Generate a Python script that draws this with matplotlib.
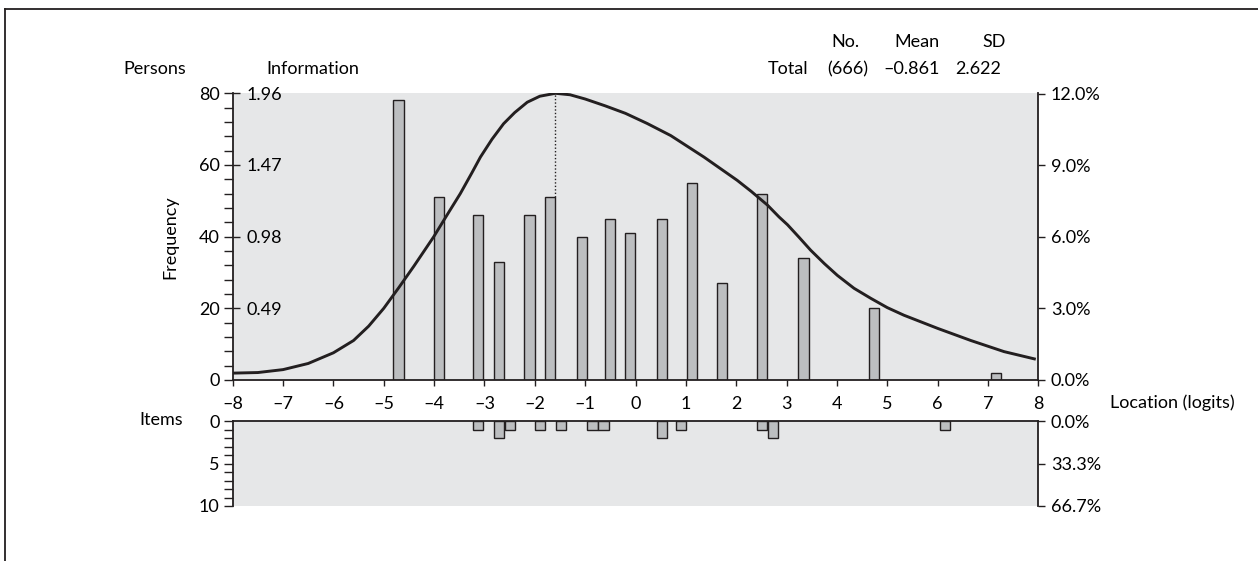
import matplotlib
matplotlib.use('Agg')
import matplotlib.pyplot as plt
from matplotlib.ticker import MultipleLocator, FuncFormatter
from matplotlib.lines import Line2D

plt.rcParams['font.family'] = ['Lato', 'DejaVu Sans']
plt.rcParams['font.size'] = 13

# Person location distribution (class centre in logits, count)
person_loc = [-4.71, -3.90, -3.13, -2.71, -2.11, -1.70, -1.06, -0.51, -0.11,
              0.53, 1.12, 1.72, 2.51, 3.34, 4.74, 7.16]
person_n = [78, 51, 46, 33, 46, 51, 40, 45, 41, 45, 55, 27, 52, 34, 20, 2]

# Item location distribution
item_loc = [-3.13, -2.71, -2.49, -1.90, -1.48, -0.85, -0.64, 0.53, 0.90,
            2.51, 2.73, 6.15]
item_n = [1, 2, 1, 1, 1, 1, 1, 2, 1, 1, 2, 1]

# Test information function
info_loc = [-8.00, -7.50, -7.00, -6.50, -6.00, -5.60, -5.30, -5.00, -4.70,
            -4.40, -4.01, -3.70, -3.48, -3.25, -3.08, -2.85, -2.62, -2.40,
            -2.15, -1.90, -1.59, -1.30, -1.00, -0.60, -0.20, 0.23, 0.70,
            1.36, 2.02, 2.30, 2.62, 2.85, 3.02, 3.25, 3.48, 3.75, 4.01,
            4.34, 4.67, 5.00, 5.33, 6.00, 6.66, 7.32, 7.95]
info_val = [0.047, 0.051, 0.071, 0.113, 0.186, 0.270, 0.368, 0.490, 0.632,
            0.779, 0.978, 1.152, 1.274, 1.416, 1.524, 1.646, 1.752, 1.828,
            1.899, 1.940, 1.960, 1.950, 1.921, 1.874, 1.823, 1.754, 1.671,
            1.524, 1.365, 1.289, 1.196, 1.115, 1.061, 0.975, 0.887, 0.796,
            0.715, 0.627, 0.559, 0.495, 0.443, 0.353, 0.270, 0.194, 0.142]

n_persons = 666
n_items = 15
mean_loc = -0.861
sd_loc = 2.622

PERSONS_MAX = 80
INFO_MAX = 1.96
scale = INFO_MAX / PERSONS_MAX

BAR_FC = '#bcbec0'
EDGE = '#231f20'
BG = '#e6e7e8'
BAR_W = 0.21

W, H = 1258, 561


def fx(px):
    return px / W


def fy(py):
    return 1 - py / H


def dash(v, fmt='{:g}'):
    return fmt.format(v).replace('-', '\u2013')


fig = plt.figure(figsize=(W / 100, H / 100), dpi=100)

left, right = 232.7, 1038.3

# --- persons panel ---
ax = fig.add_axes([fx(left), fy(380), fx(right) - fx(left), fy(93.3) - fy(380)])
ax.set_facecolor(BG)
ax.bar(person_loc, person_n, width=BAR_W, color=BAR_FC, edgecolor=EDGE,
       linewidth=1, zorder=2)
ax.plot(info_loc, [v / scale for v in info_val], color=EDGE, lw=2.1, zorder=3,
        solid_joinstyle='round', solid_capstyle='butt')

peak = info_val.index(max(info_val))
near = min(range(len(person_loc)), key=lambda i: abs(person_loc[i] - info_loc[peak]))
ax.vlines(info_loc[peak], person_n[near], info_val[peak] / scale, colors=EDGE,
          linestyles=(0, (1, 1.5)), lw=1, zorder=3)

ax.set_xlim(-8, 8)
ax.set_ylim(0, PERSONS_MAX)
for s in ('top', 'right'):
    ax.spines[s].set_visible(False)
for s in ('left', 'bottom'):
    ax.spines[s].set_color(EDGE)
    ax.spines[s].set_linewidth(1.3)

ax.set_xticks(range(-8, 9))
ax.xaxis.set_major_formatter(FuncFormatter(lambda v, p: dash(v)))
ax.tick_params(axis='x', direction='out', length=4.5, width=1, pad=7, color=EDGE)
ax.yaxis.set_major_locator(MultipleLocator(20))
ax.yaxis.set_minor_locator(MultipleLocator(4))
ax.tick_params(axis='y', which='both', direction='out', length=6.5, width=1,
               pad=3, color=EDGE)

sec_info = ax.secondary_yaxis(0, functions=(lambda p: p * scale, lambda i: i / scale))
sec_info.set_alignment('right')
sec_info.set_yticks([0.49, 0.98, 1.47, 1.96])
sec_info.yaxis.set_major_formatter(FuncFormatter(lambda v, p: f'{v:.2f}'))
sec_info.tick_params(axis='y', length=5, width=1, pad=5, color=EDGE)
sec_info.spines['right'].set_visible(False)

sec_pct = ax.secondary_yaxis('right', functions=(lambda p: p / n_persons * 100,
                                                 lambda q: q * n_persons / 100))
sec_pct.set_yticks([0, 3, 6, 9, 12])
sec_pct.yaxis.set_major_formatter(FuncFormatter(lambda v, p: f'{v:.1f}%'))
sec_pct.tick_params(axis='y', length=5, width=1, pad=4, color=EDGE)
sec_pct.spines['right'].set_color(EDGE)
sec_pct.spines['right'].set_linewidth(1.3)

# --- items panel ---
axb = fig.add_axes([fx(left), fy(506), fx(right) - fx(left), fy(421) - fy(506)])
axb.set_facecolor(BG)
axb.bar(item_loc, item_n, width=BAR_W, color=BAR_FC, edgecolor=EDGE,
        linewidth=1, zorder=2)
axb.set_xlim(-8, 8)
axb.set_ylim(10, 0)
axb.set_xticks([])
for s in ('bottom', 'right'):
    axb.spines[s].set_visible(False)
for s in ('left', 'top'):
    axb.spines[s].set_color(EDGE)
    axb.spines[s].set_linewidth(1.3)
axb.yaxis.set_major_locator(MultipleLocator(5))
axb.yaxis.set_minor_locator(MultipleLocator(1))
axb.tick_params(axis='y', which='both', direction='out', length=6.5, width=1,
                pad=3, color=EDGE)

sec_ipct = axb.secondary_yaxis('right', functions=(lambda n: n / n_items * 100,
                                                   lambda q: q * n_items / 100))
sec_ipct.set_yticks([0, 100 / 3, 200 / 3])
sec_ipct.yaxis.set_major_formatter(FuncFormatter(lambda v, p: f'{v:.1f}%'))
sec_ipct.tick_params(axis='y', length=5, width=1, pad=4, color=EDGE)
sec_ipct.spines['right'].set_color(EDGE)
sec_ipct.spines['right'].set_linewidth(1.3)

# --- labels ---
fig.text(fx(155), fy(69), 'Persons', ha='center', va='center')
fig.text(fx(313), fy(69), 'Information', ha='center', va='center')
fig.text(fx(170), fy(237), 'Frequency', rotation=90, ha='center', va='center')
fig.text(fx(183), fy(420), 'Items', ha='right', va='center')
fig.text(fx(1110), fy(403), 'Location (logits)', ha='left', va='center')

fig.text(fx(845), fy(42), 'No.', ha='center', va='center')
fig.text(fx(917), fy(42), 'Mean', ha='center', va='center')
fig.text(fx(994), fy(42), 'SD', ha='center', va='center')
fig.text(fx(808), fy(69), 'Total', ha='right', va='center')
fig.text(fx(847.5), fy(69), f'({n_persons})', ha='center', va='center')
fig.text(fx(912), fy(69), dash(mean_loc, '{:.3f}'), ha='center', va='center')
fig.text(fx(978), fy(69), f'{sd_loc:.3f}', ha='center', va='center')

# outer frame (left and top edges)
fig.add_artist(Line2D([fx(5), fx(5)], [0, fy(9)], transform=fig.transFigure,
                      color=EDGE, lw=1.3))
fig.add_artist(Line2D([fx(5), 1], [fy(9), fy(9)], transform=fig.transFigure,
                      color=EDGE, lw=1.3))

fig.savefig('out.png', dpi=100)
